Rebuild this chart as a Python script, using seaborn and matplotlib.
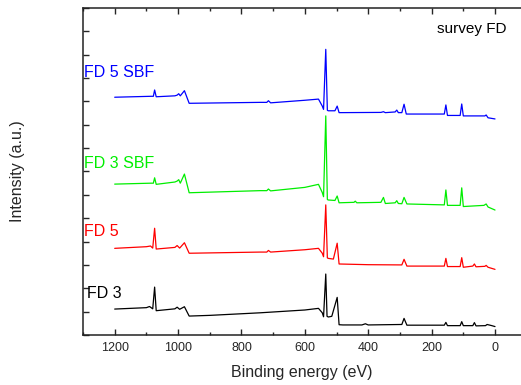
import matplotlib
matplotlib.use("Agg")
import matplotlib.pyplot as plt
import pandas as pd
import seaborn as sns
from matplotlib.ticker import MultipleLocator

# XPS survey spectra, offset in arbitrary units
fd3_ev = [1200, 1100, 1090, 1080, 1074, 1069, 1010, 1003, 995, 980, 965, 900, 741, 600, 557, 545, 541,
          534, 530, 526, 515, 498, 492, 480, 420, 409, 400, 294, 287, 278, 160, 155, 150, 110, 105,
          100, 70, 65, 60, 30, 25, 10, 0]
fd3_int = [1.11, 1.17, 1.22, 1.12, 2.05, 1.04, 1.12, 1.19, 1.10, 1.21, 0.81, 0.84, 0.95, 1.07, 1.14, 0.95, 0.78,
           2.61, 0.80, 0.77, 0.80, 1.61, 0.44, 0.43, 0.43, 0.48, 0.43, 0.45, 0.71, 0.42, 0.42, 0.54, 0.40, 0.40, 0.57,
           0.40, 0.40, 0.53, 0.39, 0.40, 0.45, 0.40, 0.36]

fd5_ev = [1200, 1100, 1087, 1080, 1074, 1069, 1010, 1003, 995, 980, 965, 741, 720, 715, 708, 600, 557, 545,
          541, 534, 529, 526, 510, 498, 492, 400, 294, 287, 278, 160, 155, 150, 110, 105, 100, 70, 65, 60,
          32, 28, 22, 0]
fd5_int = [3.71, 3.78, 3.81, 3.72, 4.57, 3.68, 3.75, 3.83, 3.72, 3.95, 3.50, 3.55, 3.55, 3.62, 3.55, 3.65, 3.71, 3.50,
           3.35, 5.57, 3.30, 3.28, 3.25, 3.93, 3.04, 3.01, 3.00, 3.24, 2.95, 2.95, 3.28, 2.93, 2.93, 3.31, 2.90, 2.95, 3.04, 2.92,
           2.94, 2.98, 2.90, 2.81]

fd3sbf_ev = [1200, 1085, 1078, 1074, 1069, 1010, 1003, 998, 993, 980, 965, 741, 720, 715, 708, 600, 557, 545,
             541, 534, 529, 526, 505, 498, 492, 445, 441, 436, 360, 352, 346, 315, 310, 305, 294, 287, 278,
             160, 155, 150, 110, 105, 100, 35, 28, 22, 0]
fd3sbf_int = [6.46, 6.50, 6.50, 6.73, 6.45, 6.55, 6.59, 6.65, 6.50, 6.89, 6.09, 6.18, 6.18, 6.25, 6.17, 6.32, 6.45, 6.10,
              5.92, 9.38, 5.80, 5.78, 5.76, 5.95, 5.66, 5.68, 5.73, 5.66, 5.68, 5.89, 5.63, 5.66, 5.75, 5.63, 5.62, 5.89, 5.61,
              5.57, 6.21, 5.55, 5.55, 6.30, 5.50, 5.55, 5.61, 5.48, 5.35]

fd5sbf_ev = [1200, 1085, 1078, 1074, 1069, 1010, 1003, 998, 993, 980, 965, 741, 720, 715, 708, 600, 557, 545,
             541, 534, 529, 526, 505, 498, 492, 360, 352, 346, 315, 310, 305, 294, 287, 280, 160, 155, 150,
             110, 105, 100, 32, 28, 22, 0]
fd5sbf_int = [10.18, 10.22, 10.22, 10.49, 10.20, 10.24, 10.27, 10.33, 10.24, 10.46, 9.92, 9.96, 9.96, 10.03, 9.94, 10.05, 10.10, 9.80,
              9.66, 12.23, 9.62, 9.60, 9.60, 9.80, 9.52, 9.53, 9.56, 9.52, 9.55, 9.63, 9.52, 9.52, 9.88, 9.46, 9.46, 9.85, 9.40,
              9.40, 9.89, 9.38, 9.38, 9.42, 9.30, 9.25]

samples = ["FD 3", "FD 5", "FD 3 SBF", "FD 5 SBF"]
colors = ["black", "#ff0000", "#00ee00", "#0000ff"]

frames = []
for name, ev, inten in zip(samples,
                           [fd3_ev, fd5_ev, fd3sbf_ev, fd5sbf_ev],
                           [fd3_int, fd5_int, fd3sbf_int, fd5sbf_int]):
    frames.append(pd.DataFrame({"ev": ev, "intensity": inten, "sample": name}))
df = pd.concat(frames, ignore_index=True)

sns.set_style("ticks")
plt.rcParams["font.family"] = ["Liberation Sans", "DejaVu Sans"]
plt.rcParams["xtick.direction"] = "in"
plt.rcParams["ytick.direction"] = "in"

fig = plt.figure(figsize=(5.21, 3.85), dpi=100)
ax = fig.add_axes([0.1593, 0.1299, 0.8407, 0.8493])

sns.lineplot(data=df, x="ev", y="intensity", hue="sample", palette=dict(zip(samples, colors)),
             estimator=None, sort=True, linewidth=0.9, legend=False, ax=ax)

ax.set_xlim(1300, -82)
ax.set_ylim(0, 14)
ax.xaxis.set_major_locator(MultipleLocator(200))
ax.xaxis.set_minor_locator(MultipleLocator(100))
ax.yaxis.set_major_locator(MultipleLocator(1))
ax.set_yticklabels([])
ax.tick_params(axis="x", which="major", direction="in", length=4, width=1, top=True, labelsize=9, pad=5)
ax.tick_params(axis="x", which="minor", direction="in", length=2, width=1, top=True)
ax.tick_params(axis="y", which="major", direction="in", length=4, width=1, left=True, right=False)
ax.tick_params(axis="y", which="minor", left=False)
for side in ["left", "bottom", "top"]:
    ax.spines[side].set_linewidth(1.1)
    ax.spines[side].set_color("#222222")
ax.spines["right"].set_visible(False)

ax.set_xlabel("Binding energy (eV)", fontsize=11.5, labelpad=8)
ax.set_ylabel("Intensity (a.u.)", fontsize=11.5, labelpad=38)

label_pos = {"FD 3": (1286, 1.76), "FD 5": (1296, 4.42), "FD 3 SBF": (1296, 7.35), "FD 5 SBF": (1296, 11.26)}
for name, c in zip(samples, colors):
    x, y = label_pos[name]
    ax.text(x, y, name, color=c, fontsize=11.5, ha="left", va="center")
ax.text(72, 13.1, "survey FD", color="black", fontsize=11, ha="center", va="center")

fig.savefig("out.png", dpi=100)
